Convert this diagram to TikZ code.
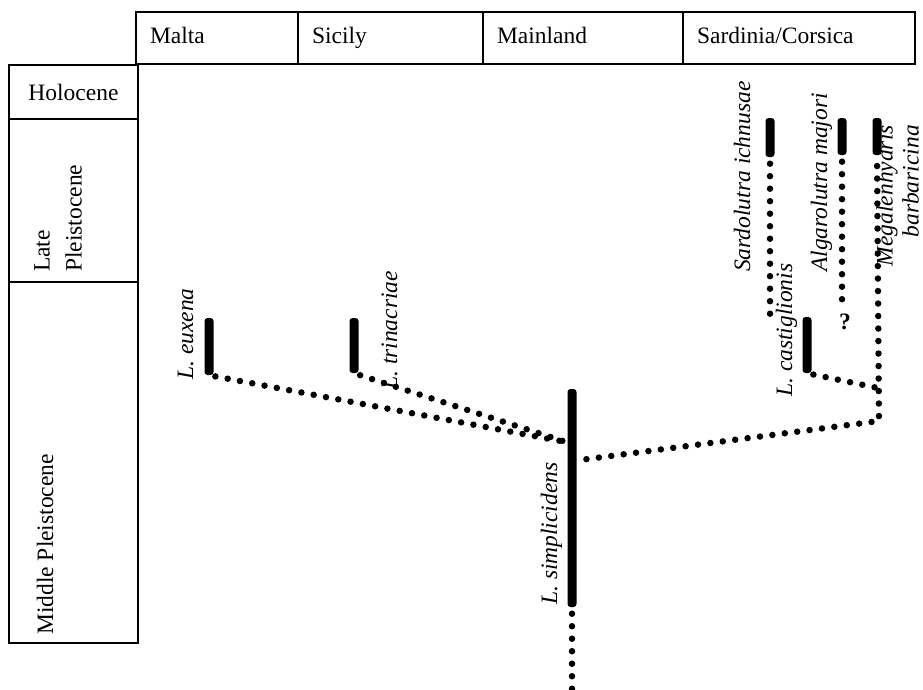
\documentclass[tikz,border=0pt]{standalone}
\usepackage{fontspec}
\setmainfont{Liberation Serif}
\begin{document}
\fontsize{23.5}{26}\selectfont
\begin{tikzpicture}[x=1pt,y=-1pt,
  cell/.style={draw, line width=1.5pt, inner sep=0pt, outer sep=0pt, anchor=north west},
  head/.style={cell, minimum height=52pt, inner xsep=14pt, align=left, execute at begin node=\rule[-6pt]{0pt}{22pt}},
  bar/.style={fill=black, inner sep=0pt, minimum width=9pt, rounded corners=3pt},
  dotline/.style={line width=6.5pt, line cap=round, dash pattern=on 0pt off 12.5pt, dash phase=6pt},
  taxon/.style={rotate=90, anchor=base west, inner sep=0pt, font=\itshape}]
\useasboundingbox (0,0) rectangle (923,689);
% regions
\node[head, minimum width=162pt, text width=134pt] (malta) at (136,12) {Malta};
\node[head, minimum width=185pt, text width=157pt] (sicily) at (298,12) {Sicily};
\node[head, minimum width=200pt, text width=172pt] (mainland) at (483,12) {Mainland};
\node[head, minimum width=232pt, text width=204pt] (sardinia) at (683,12) {Sardinia/Corsica};
% epochs
\node[cell, minimum width=129pt, minimum height=54pt] (holocene) at (9,65) {Holocene};
\node[cell, minimum width=129pt, minimum height=163pt] (late) at (9,119) {};
\node[cell, minimum width=129pt, minimum height=361pt] (middle) at (9,282) {};
\node[rotate=90, anchor=south west, inner sep=0pt, align=left] (latetxt) at (82,272) {Late\\[6pt]Pleistocene};
\node[rotate=90, anchor=base west, inner sep=0pt] (middletxt) at (53,635) {Middle Pleistocene};
% ranges
\node[bar, minimum height=57pt] (euxena) at (209,346.5) {};
\node[bar, minimum height=55pt] (trinacriae) at (354,345.5) {};
\node[bar, minimum height=218pt] (simplicidens) at (572,498) {};
\node[bar, minimum height=56pt] (castiglionis) at (807,345) {};
\node[bar, minimum height=39pt] (sardolutra) at (770,137.5) {};
\node[bar, minimum height=37pt] (algarolutra) at (842,136.5) {};
\node[bar, minimum height=37pt] (megalenhydris) at (877,136.5) {};
% names
\node[taxon] (euxenatxt) at (193,380) {L. euxena};
\node[taxon] (trinacriaetxt) at (397,390) {L. trinacriae};
\node[taxon] (simplicidenstxt) at (557,605) {L. simplicidens};
\node[taxon] (castiglionistxt) at (792,397) {L. castiglionis};
\node[taxon] (sardolutratxt) at (750,272) {Sardolutra ichnusae};
\node[taxon] (algarolutratxt) at (827,272) {Algarolutra majori};
\node[rotate=90, anchor=south east, inner sep=0pt, font=\itshape, align=right] (megalenhydristxt) at (919,125) {Megalenhydris\\barbaricina};
\node[font=\bfseries] (query) at (845,322) {?};
% links
\coordinate (joinL) at (566,442);
\coordinate (joinR) at (580,460);
\coordinate (corner) at (879,421);
\coordinate (cjoin) at (878,388);
\draw[dotline] (euxena.south) -- (joinL);
\draw[dotline] (trinacriae.south) -- (joinL);
\draw[dotline] (joinR) -- (corner) -- (megalenhydris.south);
\draw[dotline] (castiglionis.south) -- (cjoin);
\draw[dotline] (sardolutra.south) -- (770,322);
\draw[dotline] (algarolutra.south) -- (842,305);
\draw[dotline] (simplicidens.south) -- (572,692);
\end{tikzpicture}
\end{document}
